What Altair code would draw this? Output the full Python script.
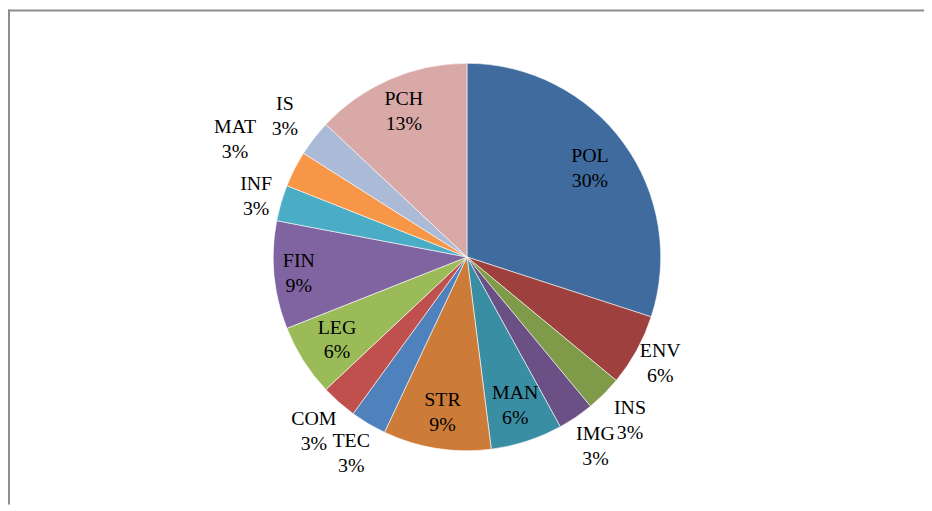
import altair as alt
import pandas as pd

# Data
categories = ["POL", "ENV", "INS", "IMG", "MAN", "STR", "TEC",
              "COM", "LEG", "FIN", "INF", "MAT", "IS", "PCH"]
percent = [30, 6, 3, 3, 6, 9, 3, 3, 6, 9, 3, 3, 3, 13]

# Styling
colors = ["#3F6B9E", "#9E413E", "#7F9A48", "#6A5085", "#3A8EA3", "#CD7B38",
          "#4F81BD", "#C0504D", "#9BBB59", "#8064A2", "#4BACC6", "#F79646",
          "#AABAD7", "#D9A9A8"]
# label distance from centre (Excel "best fit" placement)
label_radius = {"POL": 153, "ENV": 222, "INS": 232, "IMG": 230, "MAN": 157,
                "STR": 158, "TEC": 229, "COM": 233, "LEG": 155, "FIN": 170,
                "INF": 221, "MAT": 262, "IS": 232, "PCH": 160}

df = pd.DataFrame({"cat": categories, "pct": percent,
                   "idx": list(range(len(categories)))})
df["pct_label"] = df["pct"].astype(str) + "%"
df["lr"] = df["cat"].map(label_radius)

W, H = 920, 498
theta_scale = alt.Scale(domain=[0, 100])

pie = alt.Chart(df).mark_arc(radius=195, stroke="white", strokeWidth=0.6).encode(
    theta=alt.Theta("pct:Q", stack=True, scale=theta_scale),
    order=alt.Order("idx:Q"),
    color=alt.Color("cat:N", scale=alt.Scale(domain=categories, range=colors),
                    legend=None),
)

label_base = alt.Chart(df).transform_window(
    cum="sum(pct)", sort=[alt.SortField("idx")]
).transform_calculate(
    mid="datum.cum - datum.pct / 2"
).encode(
    theta=alt.Theta("mid:Q", stack=None, scale=theta_scale),
    radius=alt.Radius("lr:Q", scale=None, stack=None),
)
txt_style = dict(font="Liberation Serif", fontSize=20, color="black",
                 align="center", baseline="middle")
names = label_base.mark_text(dy=-12, **txt_style).encode(text="cat:N")
pcts = label_base.mark_text(dy=13, **txt_style).encode(text="pct_label:N")

frame_df = pd.DataFrame({"a": [0]})
top = alt.Chart(frame_df).mark_rule(color="#8E8E8E", strokeWidth=2).encode(
    x=alt.value(-2), x2=alt.value(W + 2), y=alt.value(1))
left = alt.Chart(frame_df).mark_rule(color="#8E8E8E", strokeWidth=2).encode(
    x=alt.value(-1), y=alt.value(0), y2=alt.value(H))

chart = alt.layer(pie, names, pcts, top, left).properties(
    width=W, height=H, autosize="none", background="white",
    padding={"left": 2, "top": 0, "right": 0, "bottom": 0},
).configure_view(stroke=None)

chart.save("out.html", embed_options={"renderer": "svg", "actions": False})
